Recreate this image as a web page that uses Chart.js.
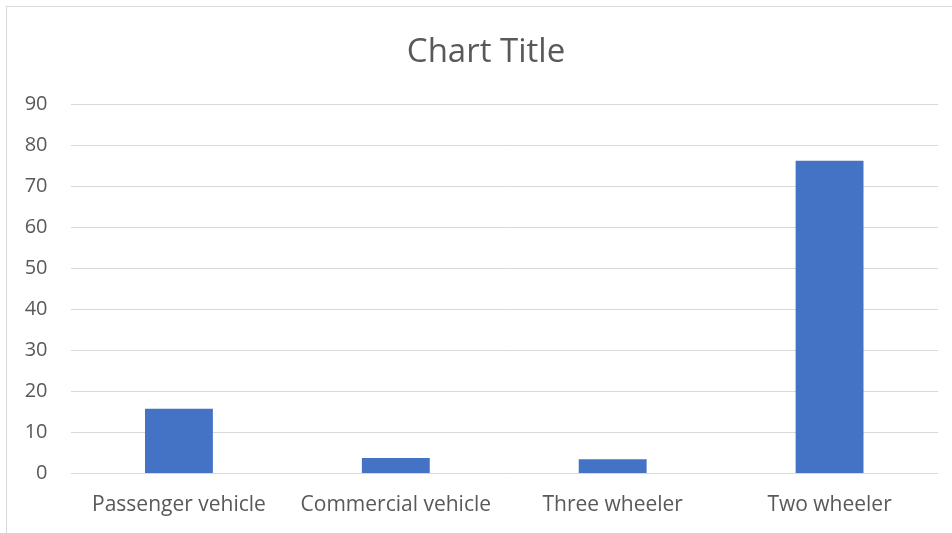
<!DOCTYPE html>
<html>
<head>
<meta charset="utf-8">
<script src="https://cdn.jsdelivr.net/npm/chart.js@4/dist/chart.umd.min.js"></script>
<style>
  html, body { margin: 0; padding: 0; background: #ffffff; }
  #wrap { position: relative; width: 952px; height: 533px; overflow: hidden; }
  #frame { position: absolute; left: 6px; top: 6px; width: 1000px; height: 600px;
           border-left: 1px solid #d9d9d9; border-top: 1px solid #d9d9d9; }
  canvas { position: absolute; left: 0; top: 0; }
</style>
</head>
<body>
<div id="wrap">
  <div id="frame"></div>
  <canvas id="c" width="952" height="533"></canvas>
</div>
<script>
const categories = ["Passenger vehicle", "Commercial vehicle", "Three wheeler", "Two wheeler"];
const seriesValues = [15.8, 3.8, 3.5, 76.3];
const yTicks = [0, 10, 20, 30, 40, 50, 60, 70, 80, 90];
const chartTitle = "Chart Title";

const FONT = "'Open Sans', 'Noto Sans', sans-serif";
const TEXT = "#595959";

// Centre the title over the whole chart frame rather than the padded box
const titleShift = {
  id: "titleShift",
  afterLayout(chart) {
    if (chart.titleBlock) { chart.titleBlock.left = 34; }
  }
};

new Chart(document.getElementById("c"), {
  type: "bar",
  data: {
    labels: categories,
    datasets: [{
      label: "Series 1",
      data: seriesValues,
      backgroundColor: "#4472C4",
      borderWidth: 0,
      categoryPercentage: 1.0,
      barPercentage: 0.313
    }]
  },
  plugins: [titleShift],
  options: {
    responsive: false,
    animation: false,
    layout: { padding: { left: 0, right: 14, top: 0, bottom: 0 } },
    plugins: {
      legend: { display: false },
      tooltip: { enabled: false },
      title: {
        display: true,
        text: chartTitle,
        color: TEXT,
        font: { family: FONT, size: 33, weight: "normal", lineHeight: 1.2 },
        padding: { top: 33, bottom: 32 }
      }
    },
    scales: {
      x: {
        grid: { display: false, drawTicks: false },
        border: { display: false },
        ticks: {
          color: TEXT,
          font: { family: FONT, size: 21 },
          padding: 19,
          maxRotation: 0,
          autoSkip: false
        },
        afterFit: (s) => { s.height = 59.5; }
      },
      y: {
        min: 0,
        max: 90,
        afterBuildTicks: (s) => { s.ticks = yTicks.map(v => ({ value: v })); },
        grid: { color: "#d9d9d9", lineWidth: 1, drawTicks: false },
        border: { display: false },
        ticks: {
          color: TEXT,
          font: { family: FONT, size: 20 },
          padding: 23
        },
        afterFit: (s) => { s.width = 70.5; }
      }
    }
  }
});
</script>
</body>
</html>
